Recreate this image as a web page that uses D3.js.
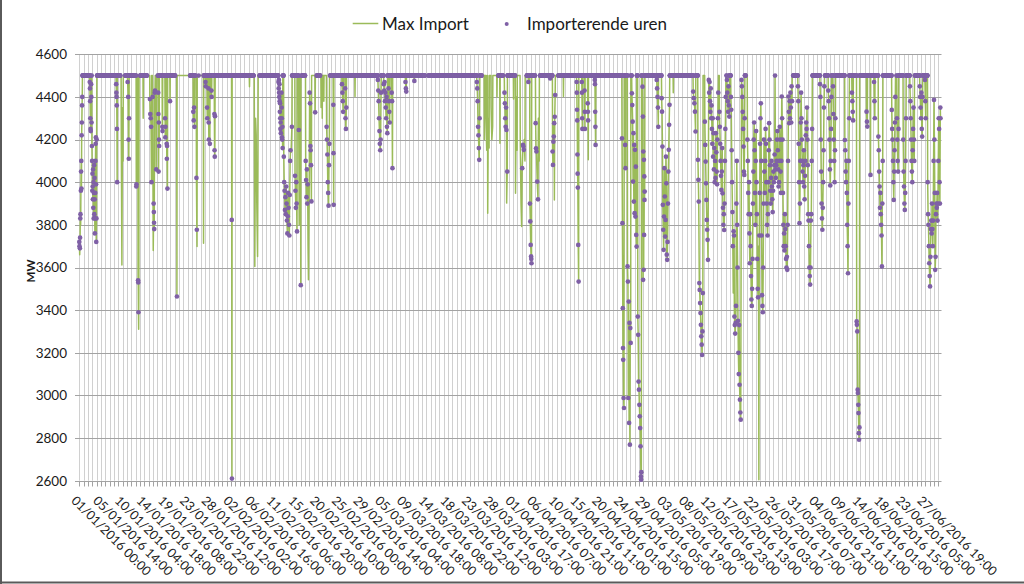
<!DOCTYPE html>
<html><head><meta charset="utf-8">
<script src="https://cdn.jsdelivr.net/npm/d3@7"></script>
<style>body{margin:0;background:#fff}svg{display:block}text{font-family:Lato,"Open Sans",sans-serif;fill:#1a1a1a}</style>
</head><body><svg id="c" width="1024" height="584"></svg>
<script>
// ---------- data ----------
const tickLabels = ["01/01/2016 00:00","05/01/2016 14:00","10/01/2016 04:00","14/01/2016 18:00","19/01/2016 08:00","23/01/2016 22:00","28/01/2016 12:00","02/02/2016 02:00","06/02/2016 16:00","11/02/2016 06:00","15/02/2016 20:00","20/02/2016 10:00","25/02/2016 00:00","29/02/2016 14:00","05/03/2016 04:00","09/03/2016 18:00","14/03/2016 08:00","18/03/2016 22:00","23/03/2016 12:00","28/03/2016 03:00","01/04/2016 17:00","06/04/2016 07:00","10/04/2016 21:00","15/04/2016 11:00","20/04/2016 01:00","24/04/2016 15:00","29/04/2016 05:00","03/05/2016 19:00","08/05/2016 09:00","12/05/2016 23:00","17/05/2016 13:00","22/05/2016 03:00","26/05/2016 17:00","31/05/2016 07:00","04/06/2016 21:00","09/06/2016 11:00","14/06/2016 01:00","18/06/2016 15:00","23/06/2016 05:00","27/06/2016 19:00"];
const yTicks = [2600,2800,3000,3200,3400,3600,3800,4000,4200,4400,4600];
const hoursTotal = 4368;
const labelStep = 110;
const gridStep = 22;
const baseMW = 4500;               // Max Import when not constrained
const seriesNames = ["Max Import","Importerende uren"];
// hour ranges in which the hours are importing at 4500 MW
const importRuns = [[16,73],[90,208],[233,287],[309,318],[329,343],[398,486],[562,588],[605,605],[630,884],[914,1052],[1069,1111],[1128,1145],[1204,1221],[1272,1752],[1771,2040],[2125,2148],[2165,2210],[2269,2311],[2336,2404],[2429,2961],[2987,3156],[3181,3223],[3282,3308],[3355,3379],[3527,3541],[3620,3679],[3718,3772],[3781,3890],[3904,4059],[4073,4135],[4144,4211],[4237,4304]];
// [hour, Max Import MW, importing (1) or not (0)] for hours below 4500 MW
const maxImportDips = [
[0,3720,1],[1,3700,1],[2,3660,0],[3,3690,1],[4,3740,1],[5,3830,1],[6,3850,1],[7,3800,0],[8,3960,1],[9,4050,1],[10,4100,1],[11,3970,1],[12,4220,1],[13,4280,1],[14,4360,1],[15,4400,1],
[53,4470,1],[54,4440,1],[55,4380,1],[56,4300,1],[57,4250,1],[58,4240,1],[59,4500,1],[60,4460,1],[61,4400,1],[62,4280,1],[63,4500,1],[64,4170,1],[65,4100,1],[66,3960,1],[67,4040,1],[68,3980,1],[69,3920,1],[70,4060,1],[71,3880,1],[72,4000,1],[73,3830,1],[74,3950,1],[75,4080,1],[76,3850,1],[77,4020,1],[78,3920,1],[79,3760,1],[80,3830,1],[81,3950,1],[82,4100,1],[83,4180,1],[84,4210,1],[85,3990,1],[86,3720,1],[87,3830,1],[88,4200,1],
[187,4460,1],[188,4420,1],[189,4400,1],[190,4360,1],[191,4250,1],[192,4000,1],[213,4200,0],[216,3612,0],[219,4350,0],[222,4100,0],
[245,4470,1],[248,4400,1],[250,4200,1],[251,4110,1],[252,4300,1],
[289,3980,1],[290,3990,1],[298,3540,1],[299,3530,1],[300,3390,1],[301,3310,0],[302,3500,0],
[324,4300,0],
[358,4390,1],[360,4320,1],[362,4300,1],[364,4260,1],[366,4000,1],[372,4400,1],[375,3680,0],[377,3900,1],[378,3860,1],[379,3810,1],[380,3780,1],[382,4420,1],[384,4430,1],[390,4060,1],
[400,4420,1],[401,4320,1],[402,4050,1],[403,4280,1],[404,4200,1],[405,4170,1],[421,4260,1],[422,4240,1],[435,4300,1],[436,4210,1],[437,4260,1],[443,4180,1],[444,4110,1],[445,4170,1],[447,3970,1],[460,4380,1],
[495,3464,1],
[578,4330,1],[580,4290,1],[582,4350,1],[584,4260,1],[594,4020,1],[596,3777,1],[597,3698,0],[630,3714,0],
[640,4470,1],[641,4450,1],[648,4350,1],[649,4300,1],[655,4440,1],[656,4280,1],[657,4200,1],[662,4180,1],[670,4430,1],[671,4400,1],[685,4320,1],[686,4150,1],[687,4120,1],[688,4310,1],
[773,3823,1],[774,2610,1],
[863,4448,0],
[888,4200,0],[890,3605,0],[892,4000,0],[894,4300,0],[897,4222,0],[900,3900,0],[904,3652,0],[906,4100,0],
[1010,4470,1],[1011,4440,1],[1012,4480,1],[1013,4420,1],[1014,4400,1],[1015,4460,1],[1016,4380,1],[1017,4330,1],[1018,4370,1],[1019,4300,1],[1020,4250,1],[1021,4280,1],[1022,4230,1],[1025,4420,1],[1026,4350,1],[1027,4300,1],[1028,4210,1],[1029,4200,1],[1030,4260,1],[1031,4160,1],[1037,4120,1],[1039,4000,1],[1041,3960,1],[1043,3870,1],[1045,3930,1],[1047,3850,1],[1049,3980,1],[1051,3900,1],[1053,3820,1],[1055,3760,1],[1057,3840,1],[1059,3950,1],[1061,3880,1],[1063,3800,1],[1065,3750,1],[1067,3940,1],[1069,4100,1],[1071,4150,1],[1074,4140,0],[1078,4260,1],
[1094,4030,1],[1096,3960,1],[1098,3880,1],[1100,4000,1],[1102,3900,1],[1104,3769,1],[1113,4245,1],[1115,3800,0],[1123,3517,1],
[1148,4100,1],[1150,4010,1],[1152,3930,1],[1154,4060,1],[1156,3900,1],[1158,3990,1],[1160,3700,0],[1162,3542,0],[1164,3800,0],[1166,4000,0],[1168,4420,1],[1170,4370,1],[1172,4170,1],[1173,4150,1],[1175,4080,1],[1177,3910,1],
[1196,4328,1],
[1226,4350,0],[1232,4300,0],[1240,4380,0],
[1254,4260,1],[1256,4200,1],[1258,4130,1],[1260,4000,1],[1262,3950,1],[1264,3890,1],[1266,4080,1],[1268,4180,1],
[1288,4363,1],[1289,4136,1],[1290,3894,1],
[1332,4460,1],[1334,4420,1],[1336,4380,1],[1338,4330,1],[1348,4440,1],[1350,4300,1],[1352,4250,1],[1354,4350,1],
[1398,4402,0],
[1514,4480,1],[1516,4430,1],[1518,4380,1],[1520,4300,1],[1522,4240,1],[1524,4180,1],[1526,4150,1],[1528,4200,1],[1530,4420,1],
[1544,4460,1],[1546,4430,1],[1548,4470,1],[1550,4380,1],[1552,4420,1],[1554,4350,1],[1556,4300,1],[1558,4400,1],[1560,4260,1],[1562,4230,1],[1568,4440,1],[1570,4380,1],[1572,4330,1],[1574,4280,1],[1584,4420,1],[1586,4380,1],[1588,4066,1],
[1654,4470,1],[1656,4440,1],[1658,4425,1],[1699,4475,1],
[2016,4470,1],[2018,4440,1],[2020,4380,1],[2022,4260,1],[2024,4220,1],[2026,4160,1],[2028,4105,1],[2030,4300,1],
[2054,4200,0],[2062,4300,0],[2066,4150,0],[2071,3855,0],[2074,4300,0],[2078,4160,0],[2088,4350,0],[2092,4200,0],[2096,4261,0],[2118,4400,0],[2133,4183,0],
[2156,4420,1],[2158,4370,1],[2160,4300,1],[2162,4260,1],[2164,4350,1],[2166,4245,1],[2167,3902,0],[2170,4050,1],[2202,4390,0],
[2212,3948,0],[2216,4400,0],[2220,4150,0],
[2236,4200,0],[2240,3900,0],[2243,3792,0],[2246,4066,1],[2250,4175,1],[2252,4167,1],[2254,4152,1],[2256,4200,0],[2260,4100,0],
[2277,4470,1],[2285,3900,1],[2287,3816,1],[2289,3706,1],[2291,3652,1],[2292,3640,1],[2293,3620,1],
[2314,4277,1],[2316,4159,1],[2318,4144,1],[2322,4003,1],[2326,3920,1],[2328,4300,0],[2332,4100,0],
[2388,4487,1],[2400,4144,1],[2402,4081,1],[2404,4190,1],[2406,4214,1],[2408,4277,1],[2409,3917,0],[2411,4307,1],[2413,4409,1],
[2455,4402,0],
[2522,4470,1],[2523,4420,1],[2524,4340,1],[2525,4290,1],[2526,4130,1],[2527,4040,1],[2528,3975,1],[2530,3706,1],[2532,3534,1],
[2548,4470,1],[2549,4420,1],[2550,4300,1],[2551,4250,1],[2562,4430,1],[2563,4330,1],[2564,4250,1],[2578,4370,1],[2579,4330,1],[2580,4290,1],[2581,4105,0],[2614,4480,1],[2615,4460,1],[2616,4330,1],[2617,4260,1],[2618,4175,1],
[2752,4206,1],[2754,3808,1],[2756,3409,1],[2757,3222,1],[2758,3167,1],[2760,2988,1],[2762,2941,1],[2768,4175,1],[2770,4066,1],[2780,3605,1],[2782,3534,1],[2784,2988,1],[2786,3440,1],[2788,2871,1],[2790,3340,1],[2792,2769,1],[2794,3316,1],[2796,3246,1],[2802,4417,1],[2804,4362,1],[2806,4284,1],[2808,4003,1],[2810,4230,1],[2812,3909,1],[2814,4175,1],[2816,3855,1],[2818,4152,1],[2820,3839,1],[2822,4073,1],[2824,3753,1],[2826,3698,1],[2832,3370,1],[2834,3284,1],[2836,3065,1],[2838,3027,1],[2840,2956,1],[2842,2902,1],[2844,2847,1],[2846,2761,1],[2848,2620,1],[2849,2605,1],[2850,2640,1],[2856,4448,1],[2858,4308,1],[2859,3542,1],[2860,4144,1],[2862,3589,1],[2863,4105,1],[2864,3753,1],[2865,4027,1],[2866,3917,1],[2867,3956,1],
[2928,4480,1],[2930,4440,1],[2932,4400,1],[2934,4350,1],[2936,4260,1],
[2953,4394,1],[2955,4331,1],[2957,4167,1],[2959,3894,1],[2961,3777,1],[2963,3683,1],[2965,3839,1],[2967,4066,1],[2969,3933,1],[2971,3745,1],[2973,3823,1],[2975,4120,1],[2977,3995,1],[2979,3660,1],[2981,3636,1],[2983,3720,1],[2985,3900,1],[2987,4050,1],[2989,4152,1],[2991,4269,1],[2993,4363,1],
[3012,4420,0],
[3113,4425,1],[3116,4394,1],[3119,4370,1],[3122,4331,1],[3125,4238,1],[3137,4105,1],[3139,4011,1],[3141,3909,1],[3144,3527,1],[3146,3495,1],[3148,3433,1],[3150,3386,1],[3152,3331,1],[3154,3277,1],[3156,3238,1],[3158,3190,1],[3160,3300,1],[3162,3480,1],[3172,4284,1],[3174,4175,1],[3176,4097,1],[3178,3995,1],[3180,3917,1],[3182,3823,1],[3184,3777,1],[3186,3730,1],[3188,3636,1],
[3192,4480,1],[3194,4420,1],[3196,4470,1],[3198,4380,1],[3200,4330,1],[3202,4440,1],[3204,4300,1],[3206,4360,1],[3208,4250,1],[3210,4180,1],[3212,4300,1],[3214,4120,1],[3216,4230,1],[3218,4060,1],[3220,4160,1],[3222,4000,1],[3224,4100,1],[3226,4020,1],[3228,4230,1],[3230,4140,1],[3232,4050,1],[3234,3990,1],[3236,4200,1],[3238,4300,1],[3240,4420,1],[3246,4330,1],[3248,4260,1],[3250,4180,1],[3252,4100,1],[3254,4030,1],[3256,3964,1],[3258,4050,1],[3260,4160,1],[3262,3948,1],[3264,3880,1],[3266,3800,1],[3268,3850,1],[3270,3776,1],[3272,3900,1],[3274,4100,1],[3276,4250,1],[3278,4400,1],[3284,4480,1],[3286,4420,1],[3288,4380,1],[3290,4330,1],[3292,4450,1],[3294,4360,1],[3296,4308,1],[3304,4400,1],[3306,4340,1],[3308,4150,1],[3310,4000,1],[3312,3860,1],[3314,3700,1],[3316,3480,0],[3318,3770,1],[3320,3750,1],[3322,3370,1],[3324,3330,1],[3326,3290,1],[3328,3340,1],[3330,3420,1],[3332,3900,1],[3334,4100,1],[3336,3800,1],[3338,3600,1],[3340,3350,1],[3342,3200,1],[3344,3100,1],[3346,3330,1],[3348,3050,1],[3350,2980,1],[3352,2920,1],[3354,2886,1],
[3358,4480,1],[3360,4450,1],[3362,4400,1],[3364,4330,1],[3366,4250,1],[3368,4167,1],[3370,4050,1],[3372,4034,1],[3374,4300,1],
[3388,4200,1],[3390,4100,1],[3392,3950,1],[3394,3850,1],[3396,4000,1],[3398,3760,1],[3400,3620,1],[3402,3850,1],[3404,3700,1],[3406,3560,1],[3408,3450,1],[3410,3420,1],[3412,3500,1],[3414,3640,1],[3416,3900,1],[3418,4050,1],[3420,4200,1],[3422,4280,1],[3424,4150,1],[3426,3950,1],[3428,3800,1],[3430,4100,1],[3432,4240,1],[3434,4000,1],[3436,3850,1],[3438,3640,1],[3440,3500,1],[3442,3460,1],[3444,3700,0],[3446,2605,0],[3448,3750,1],[3450,3950,1],[3452,4180,1],[3454,4300,1],[3456,4370,1],[3458,4100,1],[3460,3750,1],[3462,3470,1],[3464,3420,1],[3466,3390,1],[3468,3600,1],[3470,3900,1],[3472,4200,1],[3474,4050,1],[3476,3950,1],
[3478,4100,1],[3480,4250,1],[3482,4180,1],[3484,4000,1],[3486,3900,1],[3488,3800,1],[3490,3750,1],[3492,3850,1],[3494,4000,1],[3496,4150,1],[3498,4277,1],[3500,4200,1],[3502,4080,1],[3504,3960,1],[3506,3900,1],[3508,4020,1],[3510,4100,1],[3512,3980,1],[3514,3920,1],[3516,3860,1],[3518,3960,1],[3520,4050,1],[3522,4000,1],[3524,4080,1],[3526,4130,1],[3528,4500,1],[3530,4060,1],[3532,4020,1],[3534,4080,1],[3536,4100,1],[3538,4200,1],[3540,4240,1],[3542,4150,1],[3544,4060,1],[3546,3980,1],[3548,4000,1],[3550,4100,1],[3552,4260,1],[3554,4200,1],[3556,4050,1],[3558,3950,1],[3560,4100,1],
[3562,4402,1],[3564,4300,1],[3566,4200,1],[3568,3950,1],[3570,3800,1],[3572,3700,1],[3574,3760,1],[3576,3680,1],[3578,3850,1],[3580,3780,1],[3582,3700,1],[3584,3640,1],[3586,3600,1],[3588,3650,1],[3590,3589,1],[3592,3800,1],[3594,4100,1],
[3596,4402,1],[3598,4330,1],[3600,4277,1],[3602,4380,1],[3604,4300,1],[3606,4420,1],[3608,4350,1],[3610,4280,1],[3612,4450,1],[3614,4380,1],
[3644,4450,1],[3646,4380,1],[3648,4180,1],[3650,4000,1],[3652,3808,1],[3654,3900,1],[3656,4100,1],[3658,4280,1],[3660,4420,1],
[3662,4300,1],[3664,4200,1],[3666,4100,1],[3668,4050,1],[3670,4000,1],[3672,4080,1],[3674,4150,1],[3676,3980,1],[3678,3920,1],[3680,4030,1],[3682,4100,1],[3684,4220,1],[3686,4280,1],[3688,4250,1],[3690,4350,1],[3692,4200,1],[3694,4080,1],[3696,3850,1],[3698,3820,1],[3700,3700,1],[3702,3600,1],[3704,3560,1],[3706,3520,1],[3708,3600,1],[3710,3820,1],[3712,3850,1],[3714,4100,1],[3716,4250,1],
[3756,4460,1],[3758,4400,1],[3760,4200,1],[3762,4050,1],[3764,3900,1],[3766,3830,1],[3768,3777,1],[3770,3880,1],[3772,4000,1],[3774,4150,1],[3776,4350,1],[3778,4450,1],
[3798,4430,1],[3800,4380,1],[3802,4300,1],[3804,4200,1],[3806,4060,1],[3808,3985,1],[3810,4100,1],[3812,4250,1],[3814,4400,1],[3822,4450,1],[3824,4320,1],[3826,4200,1],[3828,4100,1],[3830,4000,1],[3832,4150,1],[3834,4300,1],
[3882,4198,1],[3884,4150,1],[3886,4050,1],[3888,4000,1],[3890,4100,1],[3892,3950,1],[3894,3800,1],[3896,3700,1],[3898,3573,1],[3900,3900,1],[3902,4100,1],[3904,4300,1],
[3918,4420,1],[3920,4380,1],[3922,4330,1],[3924,4290,1],
[3942,3347,1],[3943,3331,1],[3945,3300,1],[3947,3027,1],[3948,3011,1],[3950,2956,1],[3951,2917,1],[3953,2823,1],[3954,2792,1],[3956,2850,1],
[3992,4331,1],[3994,4284,1],[3996,4261,1],[4012,4034,1],
[4030,4470,1],[4032,4380,1],[4034,4300,1],[4052,4214,1],[4054,4150,1],[4056,4050,1],[4058,3980,1],[4060,3880,1],[4062,3950,1],[4064,3850,1],[4066,3800,1],[4068,3750,1],[4070,3605,1],[4072,3900,1],[4074,4100,1],
[4120,4339,1],[4122,4250,1],[4124,4200,1],[4126,4100,1],[4128,4000,1],[4130,3917,1],[4132,4050,1],[4134,4150,1],[4136,4280,1],[4138,4400,1],[4146,4300,1],[4148,4200,1],[4150,4100,1],[4152,4050,1],[4154,4250,1],
[4178,4200,1],[4180,4050,1],[4182,3980,1],[4184,3900,1],[4186,3870,1],[4188,3950,1],[4190,4100,1],[4192,4300,1],
[4212,4450,1],[4214,4380,1],[4216,4300,1],[4218,4200,1],[4220,4100,1],[4222,4050,1],[4224,4000,1],[4226,4150,1],[4228,4250,1],[4230,4350,1],[4232,4200,1],[4234,4100,1],
[4262,4450,1],[4264,4400,1],[4266,4350,1],[4268,4300,1],[4270,4420,1],[4272,4250,1],[4274,4214,1],[4276,4400,1],[4288,4480,1],[4290,4380,1],[4292,4300,1],
[4302,4000,1],[4304,3850,1],[4306,3800,1],[4308,3700,1],[4310,3620,1],[4312,3560,1],[4314,3511,1],[4316,3650,1],[4318,3780,1],[4320,3820,1],[4322,3760,1],[4324,3900,1],[4326,3780,1],[4328,3700,1],[4330,3820,1],
[4332,4100,1],[4334,4386,1],[4336,4200,1],[4338,3950,1],[4340,3589,1],[4342,3650,1],[4344,3850,1],[4346,3900,1],[4348,3880,1],[4350,3950,1],[4352,3820,1],[4354,3900,1],[4356,4100,1],[4358,4300,1],[4360,4250,1],[4362,4000,1],[4364,3900,1],[4366,4350,1],[4367,4300,1]
];

// ---------- build series ----------
const pts = maxImportDips.map(d => ({h:d[0], v:d[1], imp:d[2]})).sort((a,b)=>a.h-b.h);
const verts = [];
if (pts[0].h > 0) verts.push({h:0, v:baseMW});
pts.forEach(p => {
  const prev = verts[verts.length-1];
  if (prev && p.h - prev.h > 4) {
    if (prev.v < baseMW) verts.push({h:prev.h+1, v:baseMW});
    if (p.v < baseMW) verts.push({h:p.h-1, v:baseMW});
  }
  verts.push(p);
});
const lastV = verts[verts.length-1];
if (lastV.h < hoursTotal-1) { if (lastV.v < baseMW) verts.push({h:lastV.h+1, v:baseMW}); verts.push({h:hoursTotal-1, v:baseMW}); }

const low = new Set();
for (let k=1;k<verts.length;k++){ const a=verts[k-1], b=verts[k];
  if (Math.min(a.v,b.v) < baseMW) for (let h=a.h+1; h<b.h; h++) low.add(h); }
const dipHours = new Set(pts.map(p=>p.h));
const dots = [];
importRuns.forEach(([s,e]) => { for (let h=s; h<=e; h++) if (!low.has(h) && !dipHours.has(h)) dots.push({h, v:baseMW}); });
pts.filter(p=>p.imp===1).forEach(p=>dots.push(p));

// ---------- draw ----------
const svg = d3.select('#c');
const x = d3.scaleLinear().domain([0, hoursTotal-1]).range([79.3, 940.5]);
const y = d3.scaleLinear().domain([2600, 4600]).range([480.7, 54.3]);

// vertical gridlines
const gridHours = d3.range(0, hoursTotal, gridStep);
svg.append('g').selectAll('line').data(gridHours).join('line')
  .attr('x1', d=>Math.round(x(d))+0.5).attr('x2', d=>Math.round(x(d))+0.5)
  .attr('y1', y(4600)).attr('y2', y(2600))
  .attr('stroke', '#d0d0d0').attr('stroke-width', 1);

// horizontal gridlines
svg.append('g').selectAll('line').data(yTicks).join('line')
  .attr('x1', 75).attr('x2', 941.5)
  .attr('y1', d=>Math.round(y(d))+0.5).attr('y2', d=>Math.round(y(d))+0.5)
  .attr('stroke', '#a3a3a3').attr('stroke-width', 1);

// y axis labels
const yAxis = d3.axisLeft(y).tickValues(yTicks).tickSize(0).tickPadding(12).tickFormat(d3.format('d'));
const gy = svg.append('g').attr('transform','translate(79,0)').call(yAxis);
gy.select('.domain').remove();
gy.selectAll('text').attr('font-size', 13.5).attr('fill', '#1a1a1a').style('font-family','Lato');

// x axis ticks
const xAxis = d3.axisBottom(x).tickValues(gridHours).tickSize(5).tickFormat('');
const gx = svg.append('g').attr('transform', `translate(0,${Math.round(y(2600))+0.5})`).call(xAxis);
gx.select('.domain').remove();
gx.selectAll('.tick line').attr('stroke', '#a3a3a3');
gx.selectAll('.tick').attr('transform', d => `translate(${Math.round(x(d))+0.5},0)`);

// x tick labels
svg.append('g').selectAll('text').data(tickLabels).join('text')
  .attr('transform', (d,i) => `translate(${x(i*labelStep)-8.7},501.4) rotate(45)`)
  .attr('font-size', 12.7).text(d=>d);

// series line
const line = d3.line().x(d=>x(d.h)).y(d=>y(d.v));
svg.append('path').datum(verts).attr('d', line)
  .attr('fill','none').attr('stroke','#9bbb59').attr('stroke-width',1.5).attr('stroke-linejoin','round');

// importing hours
svg.append('g').selectAll('circle').data(dots).join('circle')
  .attr('cx', d=>x(d.h)).attr('cy', d=>y(d.v)).attr('r', 2.35)
  .attr('fill', '#7f60a6');

// y title
svg.append('text').attr('transform','translate(35,271) rotate(-90)')
  .attr('text-anchor','middle').attr('font-size',11.5).attr('font-weight','bold').text('MW');

// legend
const lg = svg.append('g');
lg.append('line').attr('x1',352.7).attr('x2',378.3).attr('y1',23.5).attr('y2',23.5)
  .attr('stroke','#9bbb59').attr('stroke-width',1.5);
lg.append('text').attr('x',382).attr('y',29.5).attr('font-size',17).text(seriesNames[0]);
lg.append('circle').attr('cx',506.7).attr('cy',24).attr('r',2).attr('fill','#7f60a6');
lg.append('text').attr('x',527).attr('y',29.5).attr('font-size',17).text(seriesNames[1]);

// chart-area border (left and bottom edges visible)
svg.append('line').attr('x1',1).attr('x2',1).attr('y1',0).attr('y2',584).attr('stroke','#5a5a5a').attr('stroke-width',2);
svg.append('line').attr('x1',0).attr('x2',1024).attr('y1',582.5).attr('y2',582.5).attr('stroke','#5a5a5a').attr('stroke-width',2);
</script></body></html>
